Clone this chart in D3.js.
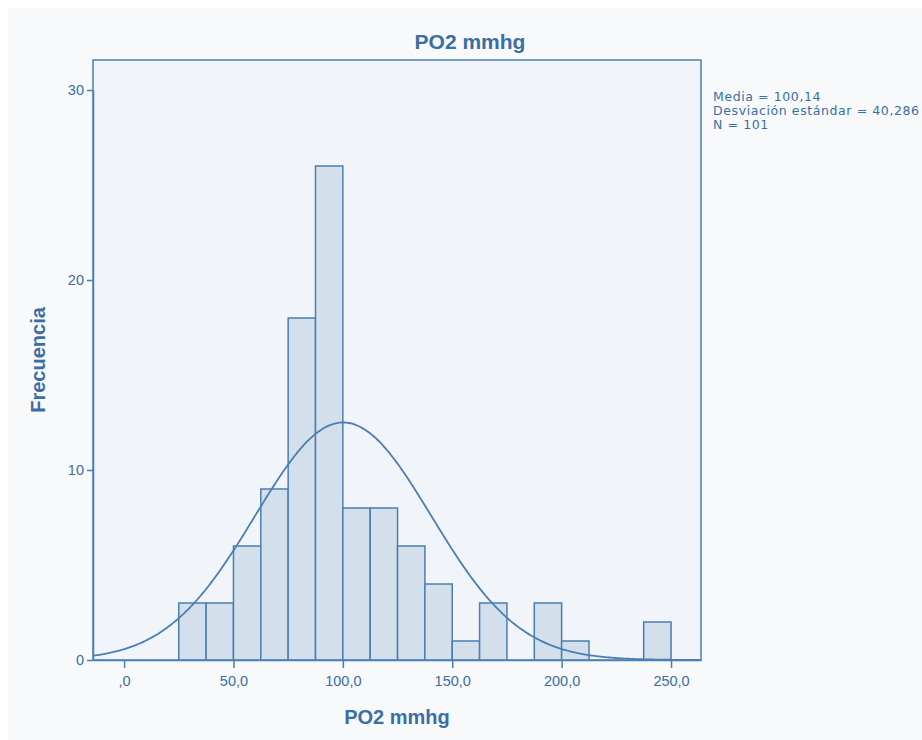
<!DOCTYPE html>
<html><head><meta charset="utf-8">
<script src="https://cdn.jsdelivr.net/npm/d3@7"></script>
<style>
html,body{margin:0;padding:0;background:#fff;}
svg{display:block;}
</style></head>
<body>
<svg id="chart" width="922" height="740"></svg>
<script>
// ---- data ----
const binStarts = [25, 37.5, 50, 62.5, 75, 87.5, 100, 112.5, 125, 137.5, 150, 162.5, 175, 187.5, 200, 212.5, 225, 237.5];
const binWidth = 12.5;
const counts = [3, 3, 6, 9, 18, 26, 8, 8, 6, 4, 1, 3, 0, 3, 1, 0, 0, 2];
const xTicks = [0, 50, 100, 150, 200, 250];
const yTicks = [0, 10, 20, 30];
const statsLines = ["Media = 100,14", "Desviación estándar = 40,286", "N = 101"];
const mean = 100.14, sd = 40.286, n = 101;

const svg = d3.select("#chart");
const textCol = "#3a6ea6";
const lineCol = "#4a7fb3";

svg.append("rect").attr("x", 8).attr("y", 8).attr("width", 914).attr("height", 732).attr("fill", "#f8f9fb");

const L = 93, R = 701, T = 60, B = 660;
const x = d3.scaleLinear().domain([-14.2, 263.7]).range([L, R]);
const y = d3.scaleLinear().domain([0, 30]).range([B, B - 570]);

svg.append("rect").attr("x", L).attr("y", T).attr("width", R - L).attr("height", B - T)
  .attr("fill", "#f1f4f9").attr("stroke", lineCol).attr("stroke-width", 1.5);

const g = svg.append("g");
g.selectAll("rect.bar").data(binStarts.map((s, i) => ({s, c: counts[i]})).filter(d => d.c > 0))
  .enter().append("rect").attr("class", "bar")
  .attr("x", d => x(d.s)).attr("width", d => x(d.s + binWidth) - x(d.s))
  .attr("y", d => y(d.c)).attr("height", d => y(0) - y(d.c))
  .attr("fill", "#d3dfea").attr("stroke", lineCol).attr("stroke-width", 1.5);

// normal curve from stats
const pts = d3.range(-14.2, 263.8, 1).map(v => [v, n * binWidth * Math.exp(-0.5 * ((v - mean) / sd) ** 2) / (sd * Math.sqrt(2 * Math.PI))]);
g.append("path").datum(pts)
  .attr("d", d3.line().x(d => x(d[0])).y(d => y(d[1])).curve(d3.curveBasis))
  .attr("fill", "none").attr("stroke", lineCol).attr("stroke-width", 1.8);

// axes
const xAxis = svg.append("g").attr("transform", `translate(0,${B})`)
  .call(d3.axisBottom(x).tickValues(xTicks).tickSize(8).tickSizeOuter(0).tickPadding(8)
    .tickFormat(d => d === 0 ? ",0" : d3.format(".1f")(d).replace(".", ",")));
const yAxis = svg.append("g").attr("transform", `translate(${L},0)`)
  .call(d3.axisLeft(y).tickValues(yTicks).tickSize(6).tickSizeOuter(0).tickPadding(3));
[xAxis, yAxis].forEach(a => {
  a.select(".domain").attr("stroke", lineCol).attr("stroke-width", 1.5);
  a.selectAll(".tick line").attr("stroke", lineCol).attr("stroke-width", 1.5);
  a.selectAll(".tick text").attr("fill", textCol).attr("font-family", "Liberation Sans, Arial, sans-serif").attr("font-size", 14.5);
});

// titles
svg.append("text").attr("x", 470).attr("y", 49).attr("text-anchor", "middle")
  .attr("font-family", "Liberation Sans, Arial, sans-serif").attr("font-weight", "bold").attr("font-size", 21)
  .attr("fill", textCol).text("PO2 mmhg");
svg.append("text").attr("x", 397).attr("y", 724).attr("text-anchor", "middle")
  .attr("font-family", "Liberation Sans, Arial, sans-serif").attr("font-weight", "bold").attr("font-size", 20)
  .attr("fill", textCol).text("PO2 mmhg");
svg.append("text").attr("transform", "translate(45,360) rotate(-90)").attr("text-anchor", "middle")
  .attr("font-family", "Liberation Sans, Arial, sans-serif").attr("font-weight", "bold").attr("font-size", 20)
  .attr("fill", textCol).text("Frecuencia");

svg.append("g").selectAll("text").data(statsLines).enter().append("text")
  .attr("x", 713).attr("y", (d, i) => 101 + i * 14)
  .attr("font-family", "DejaVu Sans, Verdana, sans-serif").attr("font-size", 12.5).attr("letter-spacing", 0.6)
  .attr("fill", textCol).text(d => d);
</script>
</body></html>
